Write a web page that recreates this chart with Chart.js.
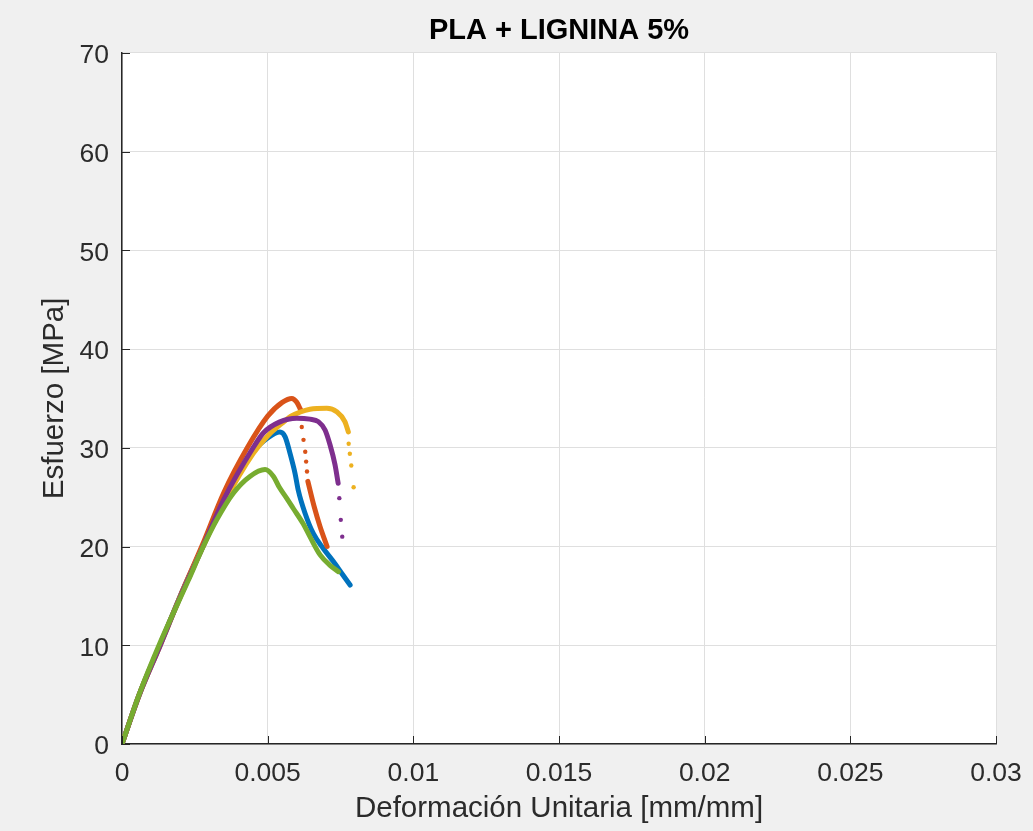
<!DOCTYPE html>
<html>
<head>
<meta charset="utf-8">
<script src="https://cdn.jsdelivr.net/npm/chart.js@4.4.1/dist/chart.umd.min.js"></script>
<style>
body { margin: 0; background: #f0f0f0; }
#wrap { width: 1033px; height: 831px; }
</style>
</head>
<body>
<div id="wrap"><canvas id="curvas" width="1033" height="831"></canvas></div>
<script>
// ensayos de traccion, deformacion [mm/mm] vs esfuerzo [MPa]
var xTickLabels = ['0', '0.005', '0.01', '0.015', '0.02', '0.025', '0.03'];
var yTickLabels = ['0', '10', '20', '30', '40', '50', '60', '70'];

var azulX = [0, 0.0006, 0.0013, 0.002, 0.00275, 0.0035, 0.0045, 0.005, 0.00542, 0.0056, 0.00577, 0.00594, 0.00605, 0.00628, 0.00657, 0.00691, 0.00725, 0.00754, 0.00783];
var azulY = [0, 5.1, 10, 15, 19.9, 24.6, 29.6, 31.0, 31.6, 31.1, 29.4, 27.4, 25.7, 23.4, 21.3, 19.8, 18.5, 17.3, 16.1];

var naranjaX = [0, 0.0006, 0.0013, 0.002, 0.00275, 0.0035, 0.0043, 0.005, 0.0055, 0.00583, 0.006, 0.00614];
var naranjaY = [0, 5.1, 10, 15, 20.1, 25.5, 30, 33.2, 34.6, 35.0, 34.6, 33.8];
var naranjaColaX = [0.00617, 0.00623, 0.00629, 0.00632, 0.00635];
var naranjaColaY = [32.1, 30.8, 29.6, 28.6, 27.6];
var naranja2X = [0.00638, 0.0066, 0.0068, 0.00704];
var naranja2Y = [26.6, 24.0, 22.0, 20.0];

var amarilloX = [0, 0.0006, 0.0013, 0.002, 0.00275, 0.0035, 0.0045, 0.005, 0.0055, 0.0058, 0.0061, 0.00645, 0.00703, 0.00737, 0.00765, 0.00777];
var amarilloY = [0, 5.0, 9.9, 14.9, 19.8, 24.4, 29.4, 31.2, 32.5, 33.2, 33.6, 33.9, 34.0, 33.65, 32.65, 31.6];
var amarilloColaX = [0.00778, 0.00782, 0.00787, 0.00795];
var amarilloColaY = [30.4, 29.4, 28.2, 26.0];

var moradoX = [0, 0.0006, 0.0013, 0.002, 0.00275, 0.0035, 0.0045, 0.00485, 0.0054, 0.006, 0.00645, 0.00674, 0.00697, 0.00714, 0.00731, 0.00742];
var moradoY = [0, 5.0, 9.9, 14.9, 19.8, 24.8, 30.0, 31.5, 32.6, 33.0, 32.9, 32.65, 31.8, 30.3, 28.3, 26.4];
var moradoColaX = [0.00746, 0.00751, 0.00756];
var moradoColaY = [24.9, 22.7, 21.0];

var verdeX = [0, 0.0006, 0.0013, 0.00228, 0.00279, 0.00325, 0.00382, 0.00439, 0.00491, 0.0052, 0.0054, 0.00565, 0.00588, 0.00622, 0.00645, 0.0068, 0.00714, 0.00743];
var verdeY = [0, 5.1, 10.2, 16.6, 20, 22.7, 25.4, 27.1, 27.8, 27.1, 26.0, 24.9, 23.85, 22.3, 21.0, 19.15, 18.1, 17.45];

function puntos(xs, ys) {
    return xs.map(function (x, i) { return { x: x, y: ys[i] }; });
}

function curva(xs, ys, color, orden) {
    return {
        data: puntos(xs, ys),
        showLine: true,
        borderColor: color,
        backgroundColor: color,
        borderWidth: 5,
        borderCapStyle: 'round',
        borderJoinStyle: 'round',
        cubicInterpolationMode: 'monotone',
        pointRadius: 0,
        order: orden
    };
}

function cola(xs, ys, color, orden) {
    return {
        data: puntos(xs, ys),
        showLine: false,
        borderColor: color,
        backgroundColor: color,
        borderWidth: 0,
        pointRadius: 2.2,
        order: orden
    };
}

var fondo = {
    id: 'fondo',
    beforeDraw: function (chart) {
        var c = chart.ctx, a = chart.chartArea;
        c.save();
        c.fillStyle = '#f0f0f0';
        c.fillRect(0, 0, chart.width, chart.height);
        c.fillStyle = '#ffffff';
        c.fillRect(a.left, a.top, a.right - a.left, a.bottom - a.top);
        c.restore();
    },
    afterDraw: function (chart) {
        // marcas hacia adentro como en matlab
        var c = chart.ctx, a = chart.chartArea;
        var sx = chart.scales.x, sy = chart.scales.y;
        c.save();
        c.strokeStyle = '#262626';
        c.lineWidth = 1;
        c.beginPath();
        sx.ticks.forEach(function (t) {
            var px = Math.round(sx.getPixelForValue(t.value)) + 0.5;
            c.moveTo(px, a.bottom);
            c.lineTo(px, a.bottom - 8);
        });
        sy.ticks.forEach(function (t) {
            var py = Math.round(sy.getPixelForValue(t.value)) + 0.5;
            c.moveTo(a.left, py);
            c.lineTo(a.left + 8, py);
        });
        c.stroke();
        c.restore();
    }
};

var ctx = document.getElementById('curvas').getContext('2d');
var myChart = new Chart(ctx, {
    type: 'scatter',
    data: {
        datasets: [
            curva(azulX, azulY, '#0072BD', 4),
            curva(naranjaX, naranjaY, '#D95319', 3),
            cola(naranjaColaX, naranjaColaY, '#D95319', 3),
            curva(naranja2X, naranja2Y, '#D95319', 3),
            curva(amarilloX, amarilloY, '#EDB120', 2),
            cola(amarilloColaX, amarilloColaY, '#EDB120', 2),
            curva(moradoX, moradoY, '#7E2F8E', 1),
            cola(moradoColaX, moradoColaY, '#7E2F8E', 1),
            curva(verdeX, verdeY, '#77AC30', 0)
        ]
    },
    options: {
        responsive: false,
        animation: false,
        devicePixelRatio: 1,
        layout: { padding: { left: 0, right: 37, top: 0, bottom: 0 } },
        plugins: {
            legend: { display: false },
            tooltip: { enabled: false },
            title: {
                display: true,
                text: 'PLA + LIGNINA 5%',
                color: '#000000',
                fullSize: false,
                font: { family: 'Liberation Sans', size: 29, weight: 'bold' },
                padding: { top: 14, bottom: 4 }
            }
        },
        scales: {
            x: {
                type: 'linear',
                min: 0,
                max: 0.03,
                afterFit: function (scale) {
                    scale.height = 87;
                    scale.paddingLeft = 0;
                    scale.paddingRight = 0;
                },
                ticks: {
                    stepSize: 0.005,
                    padding: 14,
                    color: '#2b2b2b',
                    font: { family: 'Liberation Sans', size: 26.5 },
                    maxRotation: 0,
                    callback: function (v, i) { return xTickLabels[i]; }
                },
                grid: { color: '#dfdfdf', drawTicks: false },
                border: { display: true, color: '#262626', width: 1.5 },
                title: {
                    display: true,
                    text: 'Deformación Unitaria [mm/mm]',
                    color: '#2b2b2b',
                    font: { family: 'Liberation Sans', size: 29.5 },
                    padding: { top: 0, bottom: 4 }
                }
            },
            y: {
                type: 'linear',
                min: 0,
                max: 70,
                afterFit: function (scale) {
                    scale.width = 122;
                    scale.paddingTop = 0;
                    scale.paddingBottom = 0;
                },
                ticks: {
                    stepSize: 10,
                    padding: 13,
                    labelOffset: 3,
                    color: '#2b2b2b',
                    font: { family: 'Liberation Sans', size: 26.5 },
                    callback: function (v, i) { return yTickLabels[i]; }
                },
                grid: { color: '#dfdfdf', drawTicks: false },
                border: { display: true, color: '#262626', width: 1.5 },
                title: {
                    display: true,
                    text: 'Esfuerzo [MPa]',
                    color: '#2b2b2b',
                    font: { family: 'Liberation Sans', size: 29.5 },
                    padding: { top: 37, bottom: 0 }
                }
            }
        }
    },
    plugins: [fondo]
});
</script>
</body>
</html>
